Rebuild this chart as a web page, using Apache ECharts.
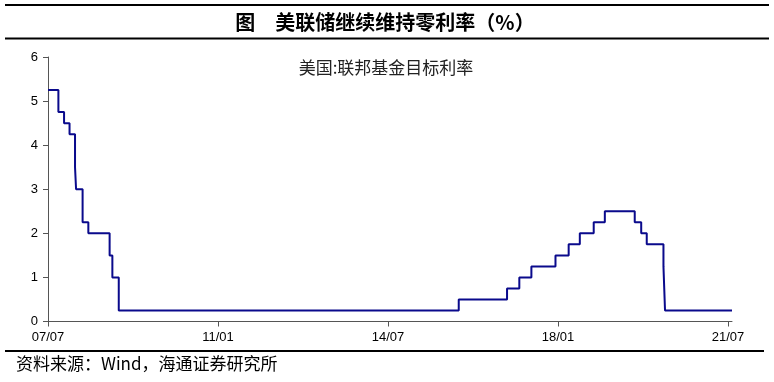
<!DOCTYPE html>
<html><head><meta charset="utf-8">
<script src="https://cdn.jsdelivr.net/npm/echarts@6/dist/echarts.min.js"></script>
<style>html,body{margin:0;padding:0;background:#fff}#c{width:774px;height:382px}</style>
</head><body><div id="c"></div>
<script>
// Change dates of the Fed funds target rate (upper bound), value holds until next change
const changeDates = ['2007-07-01','2007-09-18','2007-10-31','2007-12-11','2008-01-22','2008-01-30','2008-03-18','2008-04-30','2008-10-08','2008-10-29','2008-12-16','2015-12-16','2016-12-14','2017-03-15','2017-06-14','2017-12-13','2018-03-21','2018-06-13','2018-09-26','2018-12-19','2019-07-31','2019-09-18','2019-10-30','2020-03-03','2020-03-15','2021-08-01'];
const rates = [5.25,4.75,4.50,4.25,3.50,3.00,2.25,2.00,1.50,1.00,0.25,0.50,0.75,1.00,1.25,1.50,1.75,2.00,2.25,2.50,2.25,2.00,1.75,1.25,0.25,0.25];
const xTickLabels = ['07/07','11/01','14/07','18/01','21/07'];
const yTicks = [0,1,2,3,4,5,6];
const seriesName = '美国:联邦基金目标利率';
const titleText = '图　美联储继续维持零利率（%）';
const sourceText = '资料来源：Wind，海通证券研究所';

function monthIndex(s){
  const [y,m,d] = s.split('-').map(Number);
  const dim = new Date(y, m, 0).getDate();
  return (y-2007)*12 + (m-7) + (d-1)/dim;
}
const data = changeDates.map((s,i)=>[monthIndex(s), rates[i]]);
const tickVals = xTickLabels.map((_,i)=>i*42);

const chart = echarts.init(document.getElementById('c'));
const font = 'Liberation Sans, Arial, sans-serif';
const cjk = '"Noto Sans CJK SC", sans-serif';
chart.setOption({
  animation:false,
  grid:{left:48,right:42,top:57,bottom:60.5,containLabel:false},
  xAxis:{type:'value',min:0,max:169,interval:42,
    axisLine:{lineStyle:{color:'#555',width:1}},
    axisTick:{customValues:tickVals,length:5,lineStyle:{color:'#555'}},
    axisLabel:{customValues:tickVals,formatter:v=>xTickLabels[Math.round(v/42)]||'',color:'#000',fontFamily:font,fontSize:13,margin:9},
    splitLine:{show:false}},
  yAxis:{type:'value',min:0,max:6,interval:1,
    axisLine:{show:true,lineStyle:{color:'#555',width:1}},
    axisTick:{show:true,length:5,lineStyle:{color:'#555'}},
    axisLabel:{color:'#000',fontFamily:font,fontSize:13,margin:10,formatter:v=>String(v)},
    splitLine:{show:false}},
  series:[{name:seriesName,type:'line',step:'end',data:data,showSymbol:false,
    lineStyle:{color:'#0a0a8c',width:2},clip:false}],
  graphic:[
    {type:'line',shape:{x1:5,y1:5,x2:769,y2:5},style:{stroke:'#000',lineWidth:2}},
    {type:'line',shape:{x1:5,y1:38.5,x2:769,y2:38.5},style:{stroke:'#000',lineWidth:2}},
    {type:'line',shape:{x1:5,y1:351,x2:764,y2:351},style:{stroke:'#000',lineWidth:2}},
    {type:'text',x:385,y:22,style:{text:titleText,font:'bold 20px '+cjk,fill:'#000',align:'center',verticalAlign:'middle'}},
    {type:'text',x:386,y:68,style:{text:seriesName,font:'17px '+cjk,fill:'#222',align:'center',verticalAlign:'middle'}},
    {type:'text',x:16,y:364,style:{text:sourceText,font:'17px '+cjk,fill:'#000',align:'left',verticalAlign:'middle'}}
  ]
});
</script></body></html>
